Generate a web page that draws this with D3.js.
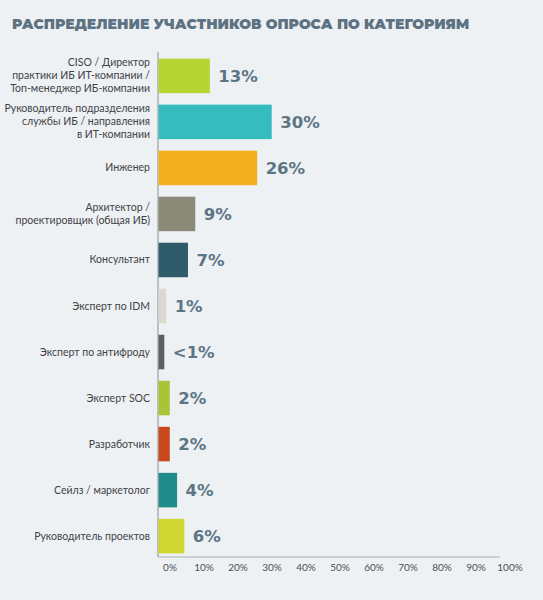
<!DOCTYPE html>
<html><head><meta charset="utf-8">
<script src="https://cdn.jsdelivr.net/npm/d3@7"></script>
<style>body{margin:0;background:#eef1f4;}svg{display:block}</style></head>
<body><svg id="c" width="543" height="600"></svg>
<script>
const categories = [
  ["CISO / Директор","практики ИБ ИТ-компании /","Топ-менеджер ИБ-компании"],
  ["Руководитель подразделения","службы ИБ / направления","в ИТ-компании"],
  ["Инженер"],
  ["Архитектор /","проектировщик (общая ИБ)"],
  ["Консультант"],
  ["Эксперт по IDM"],
  ["Эксперт по антифроду"],
  ["Эксперт SOC"],
  ["Разработчик"],
  ["Сейлз / маркетолог"],
  ["Руководитель проектов"]
];
const values = [13, 30, 26, 9, 7, 1, 0.5, 2, 2, 4, 6];
const valueLabels = ["13%","30%","26%","9%","7%","1%","<1%","2%","2%","4%","6%"];
const colors = ["#b6d433","#34bcbf","#f3ae20","#8b8a78","#2f5b6b","#d9d9d0","#5b5f60","#a8c537","#c9471c","#1f8b8b","#cfd632"];
const tickValues = [0,10,20,30,40,50,60,70,80,90,100];

const svg = d3.select("#c");
svg.append("text").attr("x",12).attr("y",29)
  .attr("font-family","Montserrat, 'DejaVu Sans', sans-serif").attr("font-weight",900)
  .attr("font-size",14).attr("fill","#5d7282")
  .text("РАСПРЕДЕЛЕНИЕ УЧАСТНИКОВ ОПРОСА ПО КАТЕГОРИЯМ");

const x0 = 158;
const xBar = d3.scaleLinear().domain([0,100]).range([x0+4, x0+368]);
const xAxis = d3.scaleLinear().domain([0,100]).range([x0+12, x0+352]);
const y = d3.scaleBand().domain(d3.range(values.length)).range([54,558]).paddingInner(0.25).paddingOuter(0.1);

svg.append("line").attr("x1",x0).attr("x2",x0).attr("y1",52).attr("y2",557).attr("stroke","#8a8f94").attr("stroke-width",1);
svg.append("line").attr("x1",x0).attr("x2",500).attr("y1",557).attr("y2",557).attr("stroke","#a9aeb3").attr("stroke-width",1);

svg.selectAll("rect.bar").data(values).join("rect")
  .attr("x",x0+0.5).attr("y",(d,i)=>y(i)).attr("height",y.bandwidth())
  .attr("width",d=>xBar(d)-x0).attr("fill",(d,i)=>colors[i]);

svg.selectAll("text.val").data(values).join("text")
  .attr("x",d=>xBar(d)+9).attr("y",(d,i)=>y(i)+y.bandwidth()/2+6)
  .attr("font-family","'DejaVu Sans', sans-serif").attr("font-weight","bold").attr("font-size",16.5)
  .attr("fill","#5c7585").text((d,i)=>valueLabels[i]);

categories.forEach((lines,i)=>{
  const cy = y(i)+y.bandwidth()/2;
  const lh = 13;
  const t = svg.append("text").attr("text-anchor","end").attr("font-family","Lato, 'Open Sans', sans-serif")
    .attr("font-size",10.5).attr("fill","#3e4347");
  lines.forEach((l,k)=>{
    t.append("tspan").attr("x",x0-8).attr("y",cy+(k-(lines.length-1)/2)*lh+3.5).text(l);
  });
});

svg.selectAll("text.tick").data(tickValues).join("text")
  .attr("x",d=>xAxis(d)).attr("y",571).attr("text-anchor","middle")
  .attr("font-family","Lato, 'Open Sans', sans-serif").attr("font-size",10).attr("fill","#4a5055")
  .text(d=>d+"%");
</script></body></html>
